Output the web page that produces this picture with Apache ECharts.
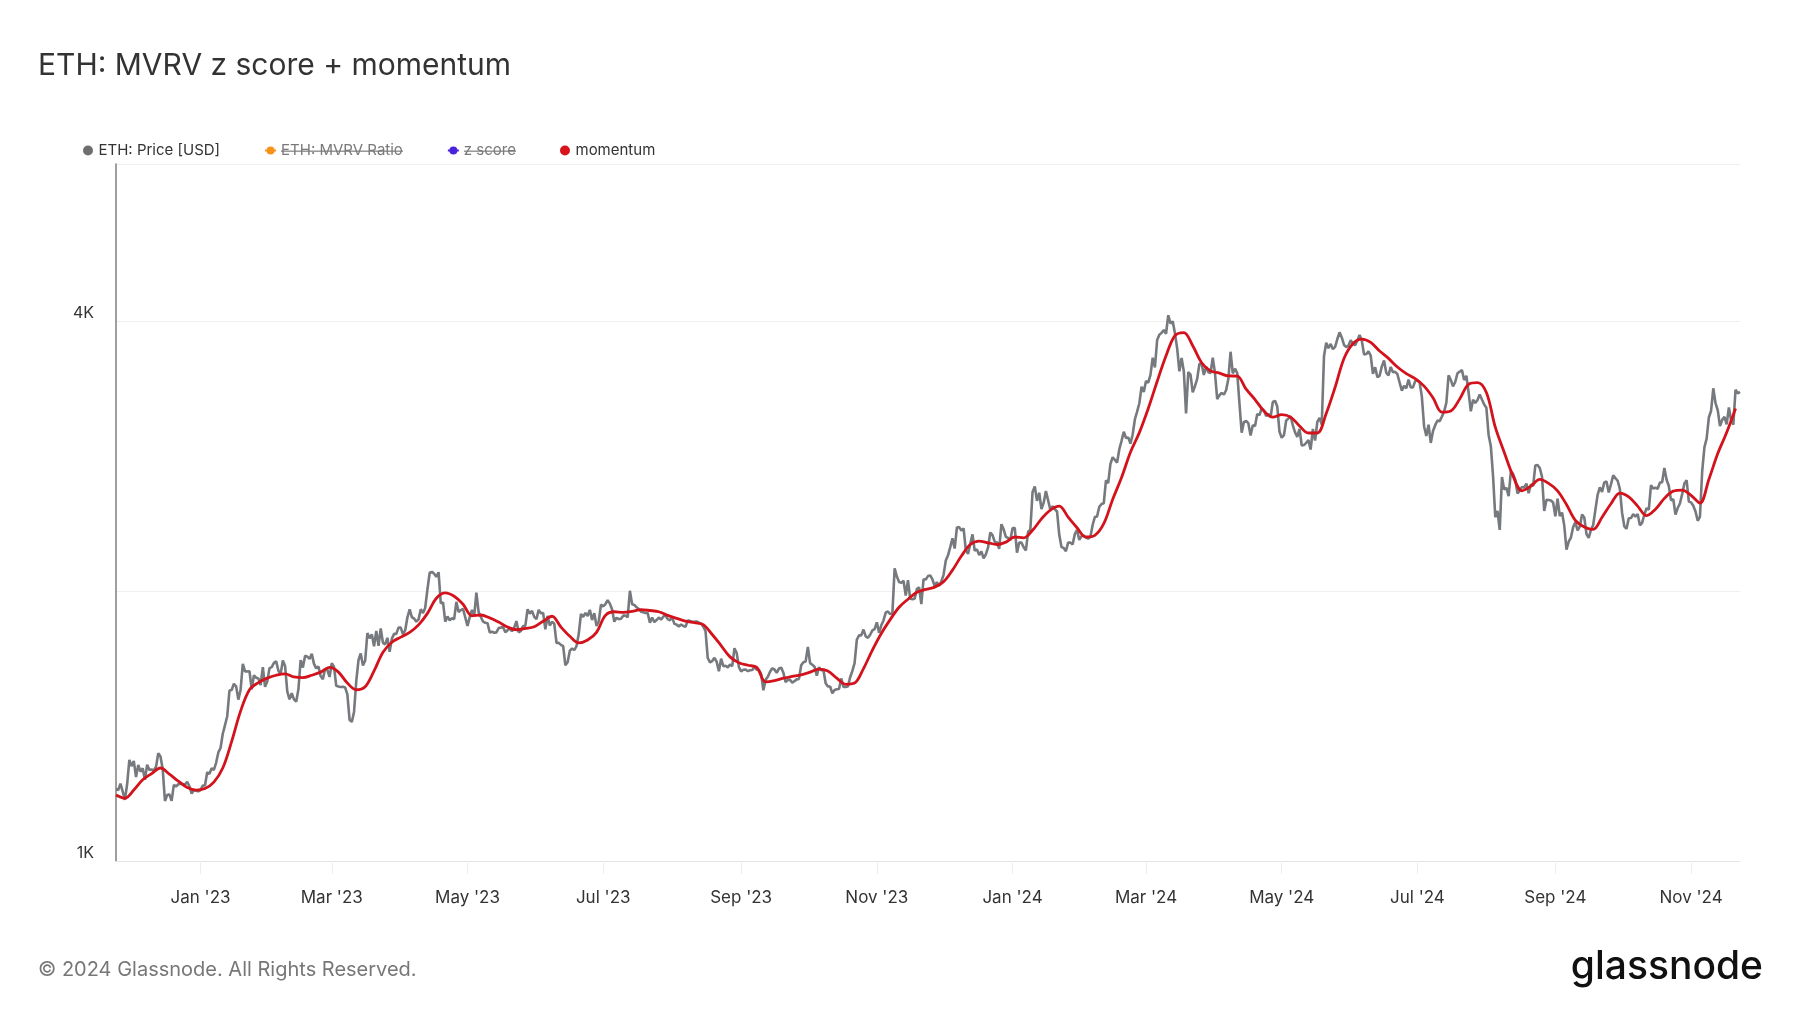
<!DOCTYPE html>
<html>
<head>
<meta charset="utf-8">
<script src="https://cdn.jsdelivr.net/npm/echarts@6/dist/echarts.min.js"></script>
<style>html,body{margin:0;padding:0;background:#fff}#c{width:1800px;height:1013px}</style>
</head>
<body>
<div id="c"></div>
<script>
// ---------- data ----------
const startDate = '2022-11-24';
const priceUSD = [
// Nov 2022 (24-30)
1203,1200,1220,1196,1170,1218,1297,
// Dec 2022
1276,1293,1241,1280,1258,1269,1232,1281,1264,1265,1263,1274,1319,1308,1266,1167,1185,1187,1167,1216,1211,1218,1220,1219,1217,1226,1212,1189,1200,1198,1196,
// Jan 2023
1200,1214,1214,1256,1251,1269,1264,1287,1322,1337,1387,1418,1451,1550,1552,1577,1567,1514,1552,1660,1628,1628,1629,1555,1612,1602,1599,1572,1646,1565,1586,
// Feb 2023
1642,1646,1664,1671,1631,1617,1674,1651,1546,1515,1539,1515,1506,1555,1676,1644,1695,1691,1681,1703,1660,1641,1649,1608,1596,1640,1635,1605,
// Mar 2023
1663,1647,1569,1566,1564,1565,1562,1535,1437,1430,1467,1588,1676,1705,1653,1673,1797,1773,1790,1737,1807,1739,1818,1752,1745,1775,1712,1771,1793,1793,1822,
// Apr 2023
1822,1791,1810,1871,1909,1872,1865,1850,1861,1910,1892,1918,2011,2098,2103,2093,2076,2101,1939,1944,1850,1875,1857,1866,1862,1947,1897,1906,1912,1870,
// May 2023
1830,1872,1907,1877,1994,1896,1873,1850,1845,1843,1799,1803,1798,1800,1820,1822,1825,1800,1810,1817,1805,1822,1853,1800,1807,1829,1830,1910,1889,1902,1873,
// Jun 2023
1862,1907,1891,1892,1814,1878,1832,1849,1841,1752,1752,1743,1737,1654,1667,1717,1727,1720,1737,1792,1887,1873,1892,1877,1907,1858,1891,1830,1851,1933,
// Jul 2023
1924,1936,1955,1938,1909,1850,1869,1862,1864,1879,1880,1871,2003,1935,1931,1920,1911,1898,1895,1892,1891,1845,1870,1848,1858,1870,1860,1874,1880,1862,1857,
// Aug 2023
1871,1840,1836,1828,1836,1830,1826,1855,1854,1850,1850,1851,1845,1842,1826,1806,1685,1666,1672,1686,1669,1629,1682,1650,1652,1645,1657,1650,1728,1707,1646,
// Sep 2023
1628,1635,1636,1629,1633,1634,1646,1635,1635,1617,1551,1593,1606,1627,1641,1636,1622,1640,1644,1622,1584,1593,1593,1581,1588,1595,1597,1654,1667,1670,
// Oct 2023
1734,1663,1656,1648,1610,1646,1633,1633,1579,1566,1566,1539,1552,1555,1556,1599,1564,1564,1566,1604,1630,1663,1766,1786,1786,1813,1781,1775,1789,1809,1815,
// Nov 2023
1847,1798,1833,1856,1894,1899,1886,1891,2122,2078,2049,2044,2055,1978,2058,1962,1960,1962,2012,2021,1936,2063,2062,2080,2084,2062,2028,2048,2029,2052,
// Dec 2023
2087,2165,2194,2241,2292,2233,2357,2359,2339,2351,2224,2202,2260,2316,2220,2228,2196,2216,2177,2199,2239,2327,2311,2271,2269,2231,2377,2346,2301,2294,2281,
// Jan 2024
2352,2355,2209,2268,2267,2240,2222,2331,2343,2582,2619,2524,2577,2471,2512,2588,2527,2467,2489,2470,2456,2313,2241,2236,2217,2268,2267,2256,2317,2343,2283,
// Feb 2024
2305,2309,2296,2290,2300,2372,2421,2425,2486,2503,2508,2660,2642,2776,2823,2804,2785,2882,2945,3015,2967,2971,2924,2993,3113,3174,3244,3385,3340,
// Mar 2024
3434,3421,3489,3646,3556,3816,3868,3887,3916,3878,4067,3982,4004,3883,3735,3521,3644,3519,3159,3514,3491,3336,3389,3453,3591,3588,3489,3562,3512,3506,3648,
// Apr 2024
3505,3279,3311,3331,3317,3354,3452,3703,3502,3545,3505,3242,3007,3092,3099,3082,2985,3066,3059,3155,3146,3201,3185,3138,3155,3131,3255,3264,3216,3014,
// May 2024
2969,2988,3103,3118,3137,3064,3010,2975,3037,2910,2913,2930,2950,2880,3036,2947,3092,3124,3070,3660,3790,3737,3778,3728,3749,3826,3892,3842,3768,3748,3762,
// Jun 2024
3814,3780,3767,3812,3865,3812,3678,3681,3706,3666,3499,3559,3468,3481,3566,3620,3508,3484,3561,3512,3517,3495,3420,3351,3392,3371,3447,3379,3379,3434,
// Jul 2024
3441,3421,3298,3056,2982,3070,2929,3020,3066,3103,3098,3134,3175,3248,3486,3444,3388,3426,3504,3518,3533,3443,3481,3335,3177,3274,3246,3271,3318,3275,3233,
// Aug 2024
3206,2990,2905,2689,2420,2460,2342,2683,2599,2610,2555,2723,2705,2664,2572,2592,2616,2612,2638,2574,2633,2622,2764,2768,2746,2686,2459,2530,2529,2526,2513,
// Sep 2024
2425,2538,2427,2449,2369,2226,2273,2297,2359,2389,2340,2362,2437,2418,2317,2295,2342,2372,2466,2563,2613,2583,2647,2653,2579,2633,2695,2676,2658,2603,
// Oct 2024
2447,2364,2349,2414,2415,2440,2423,2440,2370,2385,2437,2476,2468,2628,2606,2611,2604,2645,2648,2747,2665,2622,2527,2535,2437,2478,2507,2568,2639,2662,2519,
// Nov 2024 (1-23)
2514,2492,2456,2398,2422,2722,2896,2962,3127,3182,3371,3244,3186,3059,3108,3132,3072,3209,3104,3070,3358,3327,3340
];

// momentum, read every 4th day from the start date
const momentumStepDays = 4;
const momentumUSD = [
1185,1175,1200,1232,1252,1270,1250,1228,1208,1200,
1205,1225,1270,1360,1470,1553,1582,1600,1612,1618,
1605,1602,1612,1625,1645,1625,1580,1553,1565,1630,
1710,1755,1778,1800,1835,1890,1965,1992,1975,1935,
1878,1882,1868,1848,1825,1812,1818,1826,1852,1876,
1825,1782,1752,1765,1800,1880,1898,1895,1900,1908,
1904,1898,1880,1866,1853,1845,1836,1790,1740,1690,
1665,1654,1645,1585,1590,1600,1607,1614,1625,1638,
1630,1600,1575,1580,1640,1720,1795,1860,1920,1960,
1995,2010,2022,2050,2112,2190,2256,2276,2266,2256,
2270,2300,2295,2340,2410,2465,2490,2420,2355,2300,
2310,2380,2533,2680,2860,3008,3200,3430,3664,3860,
3890,3760,3600,3525,3505,3480,3478,3363,3275,3180,
3130,3150,3130,3060,3005,3005,3160,3380,3640,3780,
3825,3793,3710,3640,3560,3500,3455,3390,3290,3170,
3180,3280,3406,3420,3334,3050,2860,2690,2590,2621,
2667,2640,2590,2500,2400,2360,2345,2420,2505,2575,
2550,2490,2430,2470,2540,2588,2595,2560,2510,2667,
2850,3008,3200
];

const seriesNames = ['ETH: Price [USD]', 'ETH: MVRV Ratio', 'z score', 'momentum'];
const hiddenSeries = ['ETH: MVRV Ratio', 'z score'];
const yTickValues = [1000, 2000, 4000];
const yTickText = ['1K', '', '4K'];
const monthAbbr = ['Jan','Feb','Mar','Apr','May','Jun','Jul','Aug','Sep','Oct','Nov','Dec'];

// ---------- build ----------
const dates = [];
(function () {
  const t0 = new Date(startDate + 'T00:00:00Z').getTime();
  for (let i = 0; i < priceUSD.length; i++) {
    dates.push(new Date(t0 + i * 86400000).toISOString().slice(0, 10));
  }
})();
const momentumPairs = momentumUSD.map((v, k) => [dates[k * momentumStepDays], v]);

function isOddMonthStart(idx, val) {
  const m = +val.slice(5, 7), d = +val.slice(8, 10);
  return d === 1 && (m % 2 === 1);
}
function xLabel(val) {
  const m = +val.slice(5, 7);
  return monthAbbr[m - 1] + " '" + val.slice(2, 4);
}
function yLabel(v) {
  for (let i = 0; i < yTickValues.length; i++) {
    if (Math.abs(v - yTickValues[i]) / yTickValues[i] < 0.01) return yTickText[i];
  }
  return '';
}
function strikeImage() {
  const c = document.createElement('canvas');
  c.width = 8; c.height = 40;
  const g = c.getContext('2d');
  g.fillStyle = '#8c8c8c';
  g.fillRect(0, 20, 8, 3);
  return c;
}

const FONT = 'Inter';
const chart = echarts.init(document.getElementById('c'), null, {renderer: 'canvas'});
chart.setOption({
  animation: false,
  backgroundColor: '#ffffff',
  title: {
    text: 'ETH: MVRV z score + momentum',
    left: 38, top: 51, padding: 0,
    textStyle: {fontFamily: FONT, fontSize: 30, fontWeight: 'normal', color: '#333333'}
  },
  legend: {
    left: 78, top: 138,
    itemWidth: 11, itemHeight: 10, itemGap: 44,
    selectedMode: false,
    data: [
      {name: seriesNames[0], icon: 'circle'},
      {name: seriesNames[1]},
      {name: seriesNames[2]},
      {name: seriesNames[3], icon: 'circle'}
    ],
    formatter: function (n) {
      return hiddenSeries.indexOf(n) >= 0 ? '{s|' + n + '}' : n;
    },
    textStyle: {
      fontFamily: FONT, fontSize: 15, color: '#333333',
      rich: {
        s: {fontFamily: FONT, fontSize: 15, color: '#7a7a7a', backgroundColor: {image: strikeImage()}}
      }
    }
  },
  grid: {left: 116, right: 60, top: 164, bottom: 152, containLabel: false},
  xAxis: {
    type: 'category',
    data: dates,
    boundaryGap: false,
    axisLine: {show: true, lineStyle: {color: '#e4e4e4', width: 1}},
    axisTick: {show: true, interval: isOddMonthStart, length: 13, lineStyle: {color: '#ededed', width: 1}},
    axisLabel: {interval: isOddMonthStart, formatter: xLabel, color: '#333333', fontFamily: FONT, fontSize: 17, margin: 28},
    splitLine: {show: false}
  },
  yAxis: {
    type: 'log',
    logBase: 2,
    min: 1000,
    max: 6000,
    interval: 1.0001,
    axisLine: {show: true, lineStyle: {color: '#7f7f7f', width: 1.5}},
    axisTick: {show: false},
    splitLine: {show: true, lineStyle: {color: '#efefef', width: 1}},
    axisLabel: {formatter: yLabel, color: '#333333', fontFamily: FONT, fontSize: 16, margin: 22, verticalAlign: 'bottom'}
  },
  series: [
    {
      name: seriesNames[0], type: 'line', data: priceUSD,
      showSymbol: false, symbol: 'circle',
      lineStyle: {color: '#76797d', width: 2.6},
      itemStyle: {color: '#6e6e6e'},
      z: 2
    },
    {
      name: seriesNames[1], type: 'line', data: [],
      symbol: 'circle',
      lineStyle: {color: '#f7931a', width: 2},
      itemStyle: {color: '#f7931a'}
    },
    {
      name: seriesNames[2], type: 'line', data: [],
      symbol: 'circle',
      lineStyle: {color: '#4a22dd', width: 2},
      itemStyle: {color: '#4a22dd'}
    },
    {
      name: seriesNames[3], type: 'line', data: momentumPairs,
      showSymbol: false, symbol: 'circle', smooth: 0.35,
      lineStyle: {color: '#d3121b', width: 2.8},
      itemStyle: {color: '#d8131b'},
      z: 3
    }
  ],
  graphic: [
    {type: 'text', left: 38, top: 960,
     style: {text: '\u00A9 2024 Glassnode. All Rights Reserved.', font: '20px Inter', fill: '#777777'}},
    {type: 'text', right: 37, top: 948,
     style: {text: 'glassnode', font: '500 39px Inter', fill: '#111111'}}
  ]
});
</script>
</body>
</html>
